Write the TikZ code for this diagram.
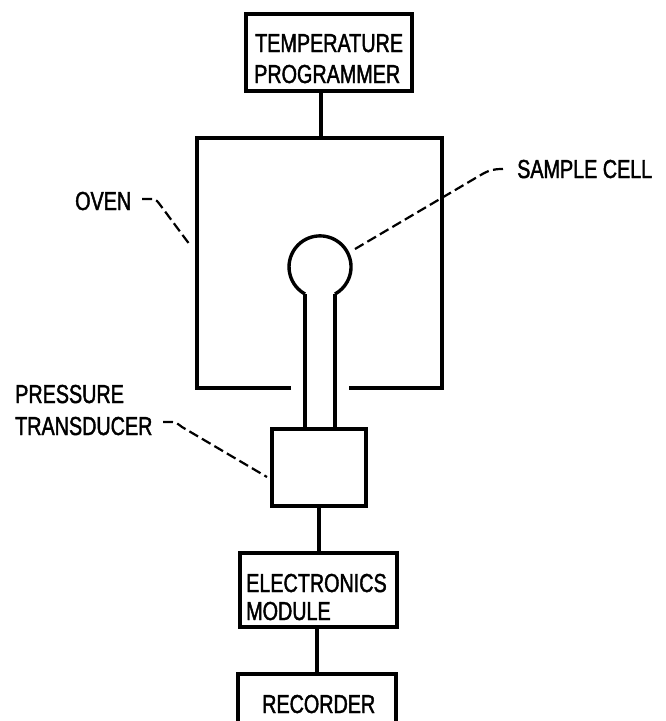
\documentclass[tikz,border=0pt]{standalone}
\usepackage{fontspec}
\setmainfont{Liberation Sans}[FakeStretch=0.76, FakeBold=1.6]
\begin{document}
\begin{tikzpicture}[x=1pt,y=-1pt,
  box/.style={draw, line width=3.4pt, inner sep=0pt},
  lbl/.style={inner sep=0pt, anchor=base west, font=\fontsize{26}{30}\selectfont},
  wire/.style={line width=3.4pt},
  leader/.style={line width=2.2pt, dash pattern=on 10pt off 4.5pt}]
\useasboundingbox (0,0) rectangle (665,721);

% boxes
\node[box, minimum width=166pt, minimum height=77pt] (tp) at (329,52.5) {};
\node[box, minimum width=94pt, minimum height=77pt] (tr) at (319,467.5) {};
\node[box, minimum width=157pt, minimum height=74pt] (em) at (318.5,590) {};
\coordinate (rec) at (317,674);
\coordinate (oventop) at (321,138);

% box texts
\node[lbl] (t1) at (255,52) {TEMPERATURE};
\node[lbl] (t2) at (254,83) {PROGRAMMER};
\node[lbl] (e1) at (246,592) {ELECTRONICS};
\node[lbl] (e2) at (246,620) {MODULE};
\node[lbl] (r1) at (262,713) {RECORDER};

% labels
\node[lbl] (lov) at (75,210) {OVEN};
\node[lbl] (lsc) at (517,178) {SAMPLE CELL};
\node[lbl] (lp1) at (15,403) {PRESSURE};
\node[lbl] (lp2) at (15,435) {TRANSDUCER};

% oven
\draw[wire] (291,388) -- (197,388) -- (197,138) -- (442,138) -- (442,388) -- (349,388);

% recorder (cut by page edge)
\draw[wire] (238,730) -- (238,674) -- (396,674) -- (396,730);

% sample cell and tube
\coordinate (tubel) at (305,294);
\coordinate (tuber) at (335,294);
\draw[wire] (tubel) arc[start angle=241, end angle=-61, radius=31pt];
\draw[wire] (tubel) -- (tubel |- tr.north);
\draw[wire] (tuber) -- (tuber |- tr.north);

% connectors
\draw[wire] (tp.south -| oventop) -- (oventop);
\draw[wire] (tr.south) -- (tr.south |- em.north);
\draw[wire] (em.south -| rec) -- (rec);

% leaders
\coordinate (ovtip) at (190,245);
\coordinate (sctip) at (355,249);
\coordinate (trtip) at (267,477);
\draw[leader] (142,199) -- (153,199) .. controls (156,199) and (158,202) .. (161,206) -- (ovtip);
\draw[leader] (503,169) .. controls (493,169) and (489,170) .. (479,176) -- (sctip);
\draw[leader] (163,422) -- (172,422) .. controls (176,422) and (178,424) .. (182,427) -- (trtip);
\end{tikzpicture}
\end{document}
